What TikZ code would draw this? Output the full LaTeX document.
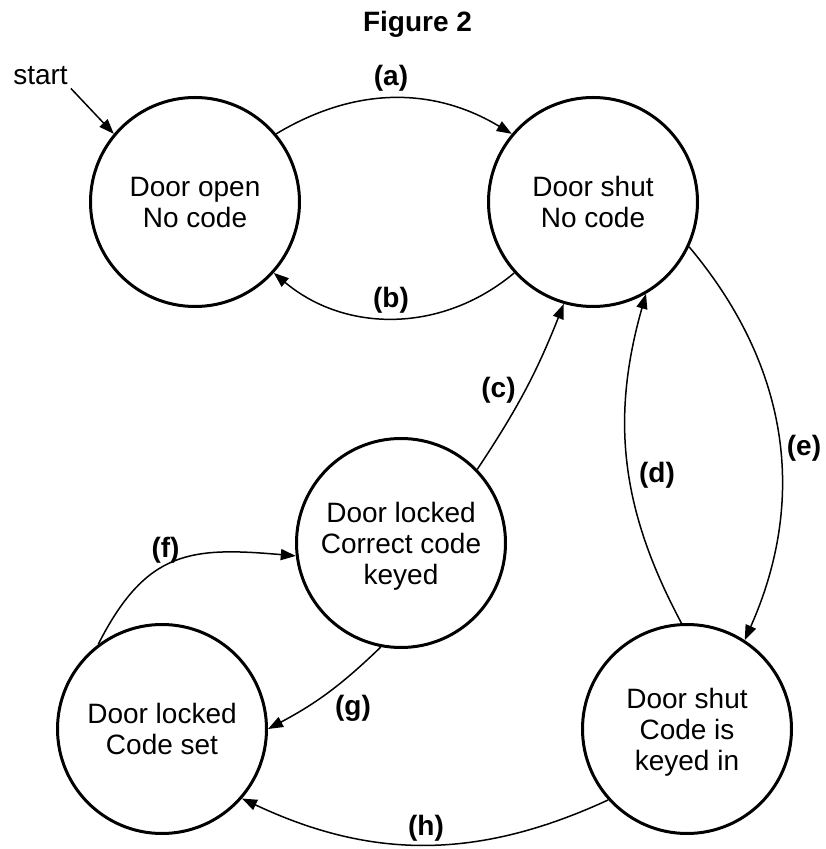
\documentclass[tikz,border=0pt]{standalone}
\usepackage{fontspec}
\setmainfont{Liberation Sans}
\usetikzlibrary{arrows.meta}
\begin{document}
\begin{tikzpicture}[x=1pt,y=1pt,
  state/.style={circle, draw, line width=3pt, minimum size=209pt, inner sep=0pt,
    align=center, font=\fontsize{28}{31}\selectfont, text depth=0pt},
  trans/.style={line width=1.5pt, -{Triangle[length=15pt,width=11pt]}},
  lab/.style={font=\fontsize{28}{31}\selectfont\bfseries, inner sep=0pt}]
\useasboundingbox (0,0) rectangle (825,849);
\node[font=\fontsize{28}{31}\selectfont\bfseries, anchor=base] (title) at (417.5,817) {Figure 2};
\node[state] (A) at (195,647) {Door open\\No code};
\node[state] (B) at (593,647) {Door shut\\No code};
\node[state] (C) at (401,306) {Door locked\\Correct code\\keyed};
\node[state] (D) at (162,120) {Door locked\\Code set};
\node[state] (E) at (687,120) {Door shut\\Code is\\keyed in};
\node[font=\fontsize{28}{31}\selectfont, anchor=base, inner sep=3pt] (start) at (40.5,764) {start};
\draw[trans] (start.south east) -- (A.140);
\draw[trans] (A.40) to[bend left=31] (B.140);
\draw[trans] (B.222) to[bend left=40] (A.318);
\draw[trans] (C.44) to[bend right=6] (B.254);
\draw[trans] (E.93) to[bend left=22] (B.300);
\draw[trans] (B.335) to[bend left=32] (E.57);
\draw[trans] (D.127) to[out=63,in=175,looseness=1.25] (C.187);
\draw[trans] (C.259) to[bend left=8] (D.0);
\draw[trans] (E.222) to[bend left=25] (D.319);
\node[lab] (la) at (391,771) {(a)};
\node[lab] (lb) at (391,549) {(b)};
\node[lab] (lc) at (498.5,459) {(c)};
\node[lab] (ld) at (657,374) {(d)};
\node[lab] (le) at (804,401) {(e)};
\node[lab] (lf) at (165.5,299) {(f)};
\node[lab] (lg) at (353,141) {(g)};
\node[lab] (lh) at (426,21) {(h)};
\end{tikzpicture}
\end{document}
